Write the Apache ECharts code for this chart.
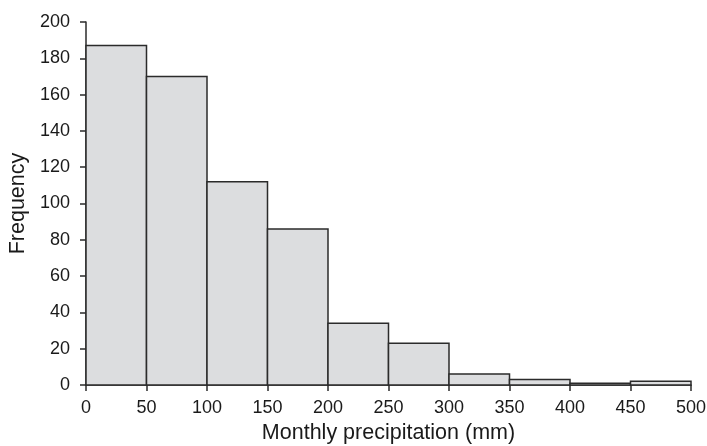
<!DOCTYPE html>
<html><head><meta charset="utf-8">
<script src="https://cdn.jsdelivr.net/npm/echarts@6/dist/echarts.min.js"></script>
<style>html,body{margin:0;padding:0;background:#fff}#c{width:707px;height:446px}</style>
</head><body><div id="c"></div>
<script>
const binStarts = [0, 50, 100, 150, 200, 250, 300, 350, 400, 450];
const binEnds = [50, 100, 150, 200, 250, 300, 350, 400, 450, 500];
const frequencies = [187, 170, 112, 86, 34, 23, 6, 3, 1, 2];

const data = binStarts.map((s, i) => [s, binEnds[i], frequencies[i]]);
const chart = echarts.init(document.getElementById('c'));
const font = 'Liberation Sans, Arial, sans-serif';
chart.setOption({
  animation: false,
  grid: { left: 86, right: 16, top: 22, bottom: 61, outerBoundsMode: 'none', containLabel: false },
  xAxis: {
    type: 'value', min: 0, max: 500, interval: 50,
    name: 'Monthly precipitation (mm)', nameLocation: 'middle', nameGap: 36,
    nameTextStyle: { fontFamily: font, fontSize: 21.5, color: '#1a1a1a' },
    axisLine: { lineStyle: { color: '#2b2b2b', width: 1.5 } },
    axisTick: { show: true, length: 6, lineStyle: { color: '#2b2b2b', width: 1.5 } },
    axisLabel: { fontFamily: font, fontSize: 18, color: '#1a1a1a', margin: 14 },
    splitLine: { show: false }
  },
  yAxis: {
    type: 'value', min: 0, max: 200, interval: 20,
    name: 'Frequency', nameLocation: 'middle', nameGap: 57, nameRotate: 90,
    nameTextStyle: { fontFamily: font, fontSize: 21.5, color: '#1a1a1a' },
    axisLine: { show: true, lineStyle: { color: '#2b2b2b', width: 1.5 } },
    axisTick: { show: true, length: 6, lineStyle: { color: '#2b2b2b', width: 1.5 } },
    axisLabel: { fontFamily: font, fontSize: 18, color: '#1a1a1a', margin: 16 },
    splitLine: { show: false }
  },
  series: [{
    type: 'custom',
    data: data,
    encode: { x: [0, 1], y: 2 },
    renderItem: function (params, api) {
      const p0 = api.coord([api.value(0), 0]);
      const p1 = api.coord([api.value(1), api.value(2)]);
      return {
        type: 'rect',
        shape: { x: p0[0], y: p1[1], width: p1[0] - p0[0], height: p0[1] - p1[1] },
        style: { fill: '#dcdddf', stroke: '#2b2b2b', lineWidth: 1.5 }
      };
    }
  }]
});
</script></body></html>
